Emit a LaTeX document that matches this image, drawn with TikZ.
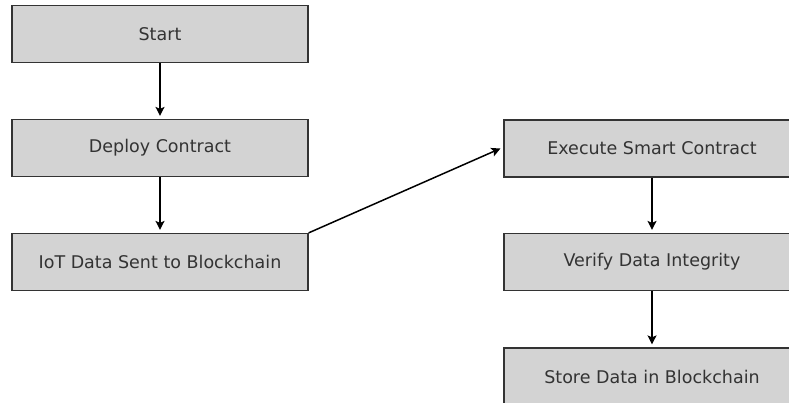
\documentclass[tikz,border=0pt]{standalone}
\usepackage{fontspec}
\setmainfont{DejaVu Sans}
\usetikzlibrary{arrows.meta}
\definecolor{boxfill}{HTML}{D3D3D3}
\definecolor{boxline}{HTML}{333333}
\definecolor{txt}{HTML}{333333}
\begin{document}
\begin{tikzpicture}[x=1pt,y=-1pt,
  stepbox/.style={draw=boxline, line width=1.2pt, fill=boxfill, minimum width=296pt, minimum height=57pt, inner sep=0pt, text=txt, font=\fontsize{17.5}{21}\selectfont},
  flow/.style={-{Stealth[length=9pt,width=9pt,inset=2pt]}, line width=1.5pt, black}]
\useasboundingbox (0,0) rectangle (789,403);
\clip (0,0) rectangle (789,403);
\node[stepbox] (start) at (160,34) {Start};
\node[stepbox] (deploy) at (160,148) {Deploy Contract};
\node[stepbox] (iot) at (160,262) {IoT Data Sent to Blockchain};
\node[stepbox] (exec) at (652,148.5) {Execute Smart Contract};
\node[stepbox] (verify) at (652,262) {Verify Data Integrity};
\node[stepbox] (store) at (652,376.5) {Store Data in Blockchain};
\draw[flow] (start) -- ([yshift=3pt]deploy.north);
\draw[flow] (deploy) -- ([yshift=3pt]iot.north);
\draw[flow] (iot.north east) -- ([xshift=-3pt]exec.west);
\draw[flow] (exec) -- ([yshift=3pt]verify.north);
\draw[flow] (verify) -- ([yshift=3pt]store.north);
\end{tikzpicture}
\end{document}
